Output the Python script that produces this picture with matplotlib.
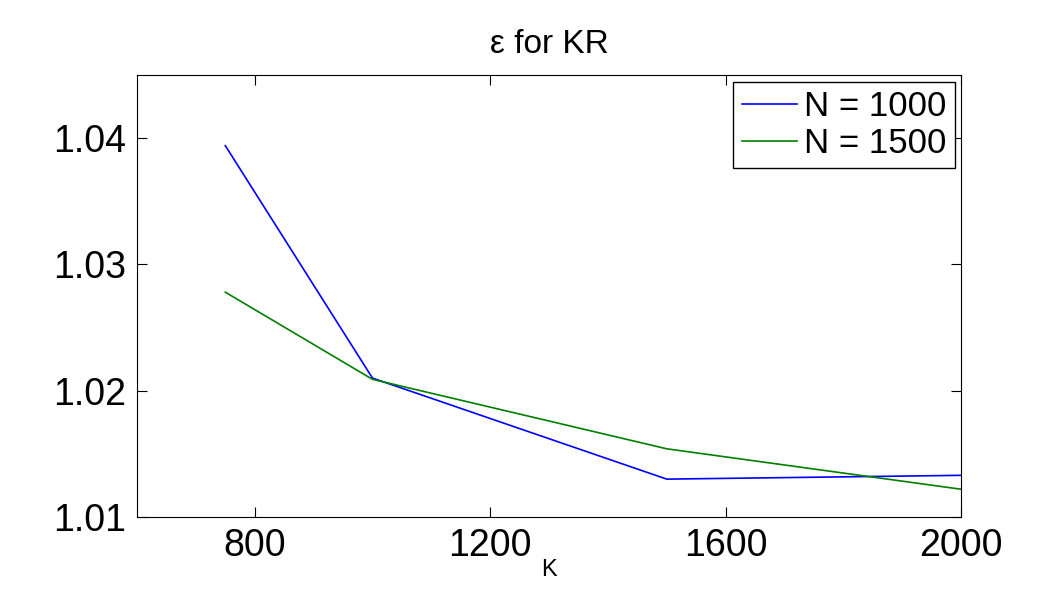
import matplotlib
matplotlib.use("Agg")
import matplotlib.pyplot as plt

plt.rcParams["font.family"] = "Liberation Sans"

K = [750, 1000, 1500, 2000]
n1000 = [1.0394, 1.0210, 1.0130, 1.0133]
n1500 = [1.0278, 1.0209, 1.0154, 1.0122]

fig = plt.figure(figsize=(10.62, 6.04), dpi=100)
ax = fig.add_axes([0.129, 0.144, 0.776, 0.732])
ax.plot(K, n1000, color="#0000ff", lw=1.2, label="N = 1000")
ax.plot(K, n1500, color="#007f00", lw=1.2, label="N = 1500")
ax.set_xlim(600, 2000)
ax.set_ylim(1.01, 1.045)
ax.set_xticks([800, 1200, 1600, 2000])
ax.set_yticks([1.01, 1.02, 1.03, 1.04])
ax.set_yticklabels(["1.01", "1.02", "1.03", "1.04"])
ax.tick_params(direction="in", labelsize=27, length=7, top=True, right=True, pad=8)
ax.set_xlabel("K", fontsize=17, labelpad=-4)
ax.set_title("ε for KR", fontsize=24, pad=16)
leg = ax.legend(loc="upper right", fontsize=25, fancybox=False, borderaxespad=0.0,
                handlelength=1.6, handletextpad=0.2, labelspacing=0.1,
                borderpad=0.25, bbox_to_anchor=(0.993, 0.985))
leg.get_frame().set_edgecolor("black")
leg.get_frame().set_linewidth(1)
leg.get_frame().set_alpha(1)
fig.savefig("out.png", dpi=100)
